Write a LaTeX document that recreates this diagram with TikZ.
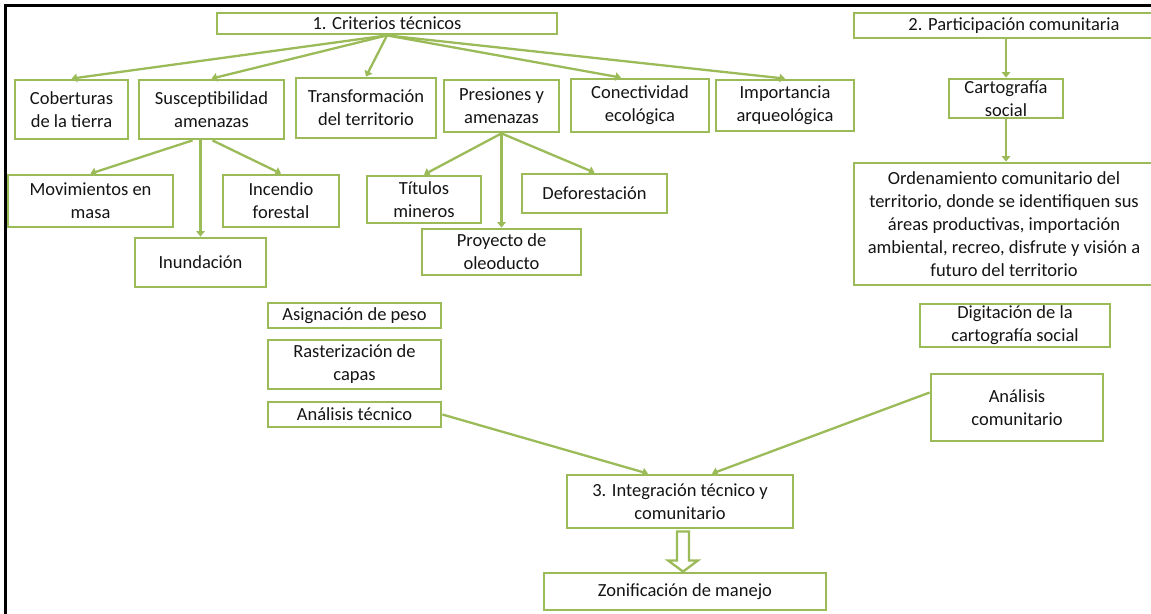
\documentclass[tikz,border=0pt]{standalone}
\usepackage{fontspec}
\setmainfont{Carlito}
\usetikzlibrary{arrows.meta,calc}
\definecolor{verde}{HTML}{9BBB59}
\definecolor{texto}{HTML}{141414}
\begin{document}
\begin{tikzpicture}[x=1pt,y=-1pt,
    >={Triangle[length=5.5pt,width=8.5pt]},line join=miter,
    caja/.style 2 args={draw=verde,line width=2.8pt,inner sep=0pt,
      minimum width=#1pt,minimum height=#2pt,align=center,text=texto,
      font=\fontsize{18.5}{23}\selectfont},
    flecha/.style={->,draw=verde,line width=2.3pt}]
    \useasboundingbox (0,0) rectangle (1151,613);
    % Marco de la figura (solo arriba e izquierda).
    \draw[line width=3pt] (5.5,640) -- (5.5,5.5) -- (1170,5.5);
    % 1. Criterios tecnicos y sus componentes.
    \node[caja={340}{21}] (crit) at (387,23.5) {1. Criterios técnicos};
    \node[caja={113}{59}] (cob) at (71.5,109.5) {Coberturas\\de la tierra};
    \node[caja={145}{59}] (susc) at (211.5,109.5) {Susceptibilidad\\amenazas};
    \node[caja={140}{60}] (transf) at (366,108) {Transformación\\del territorio};
    \node[caja={115}{52}] (pres) at (501.5,106) {Presiones y\\amenazas};
    \node[caja={138}{53}] (conec) at (640,105.5) {Conectividad\\ecológica};
    \node[caja={138}{51}] (impor) at (785,105.5) {Importancia\\arqueológica};
    \node[caja={165}{52}] (movim) at (90.5,201) {Movimientos en\\masa};
    \node[caja={116}{52}] (incen) at (281,201) {Incendio\\forestal};
    \node[caja={131}{49}] (inund) at (200.5,262.5) {Inundación};
    \node[caja={114}{47}] (titul) at (424,199.5) {Títulos\\mineros};
    \node[caja={145}{39}] (defor) at (594.5,193.5) {Deforestación};
    \node[caja={159}{46}] (proy) at (501.5,252) {Proyecto de\\oleoducto};
    \node[caja={173}{25}] (asign) at (354.5,315.5) {Asignación de peso};
    \node[caja={173}{49}] (raster) at (354.5,364.5) {Rasterización de\\capas};
    \node[caja={173}{25}] (tecn) at (354.5,414.5) {Análisis técnico};
    % 2. Participacion comunitaria.
    \node[caja={320}{25}] (partic) at (1014,25.5) {2. Participación comunitaria};
    \node[caja={114}{39}] (carto) at (1006,98.5) {Cartografía\\social};
    \node[caja={300}{122}] (orden) at (1004,224) {Ordenamiento comunitario del\\
      territorio, donde se identifiquen sus\\áreas productivas, importación\\
      ambiental, recreo, disfrute y visión a\\futuro del territorio};
    \node[caja={190}{43}] (digit) at (1015,325.5) {Digitación de la\\cartografía social};
    \node[caja={172}{67}] (comun) at (1017,407.5) {Análisis\\comunitario};
    % 3. Integracion y zonificacion.
    \node[caja={226}{53}] (integ) at (680,501.5) {3. Integración técnico y\\comunitario};
    \node[caja={282}{37}] (zon) at (685,591.5) {Zonificación de manejo};
    % Conectores.
    \foreach \hijo in {cob,susc,transf,impor}
      \draw[flecha] (crit.south) -- (\hijo.north);
    \draw[flecha] (crit.south) -- ($(conec.north)+(-19,0)$);
    \draw[flecha] ($(susc.south)+(-19,0)$) -- (movim.north);
    \draw[flecha] (inund.north |- susc.south) -- (inund.north);
    \draw[flecha] ($(susc.south)+(1,0)$) -- (incen.north);
    \foreach \hijo in {titul,proy,defor}
      \draw[flecha] (pres.south) -- (\hijo.north);
    \draw[flecha] (carto.north |- partic.south) -- (carto.north);
    \draw[flecha] (carto.south) -- (carto.south |- orden.north);
    \draw[flecha] (tecn.east) -- ($(integ.north)+(-32,0)$);
    \draw[flecha] ($(comun.west)+(0,-15)$) -- ($(integ.north)+(32,0)$);
    % Flecha hueca hacia la zonificacion.
    \draw[draw=verde,line width=2.3pt,fill=white]
      ($(integ.south)+(-3,2)$) -- ($(integ.south)+(-3,31)$)
      -- ($(integ.south)+(-12,31)$) -- ($(zon.north)+(-2,0)$)
      -- ($(integ.south)+(18,31)$) -- ($(integ.south)+(9,31)$)
      -- ($(integ.south)+(9,2)$) -- cycle;
  \end{tikzpicture}
\end{document}
